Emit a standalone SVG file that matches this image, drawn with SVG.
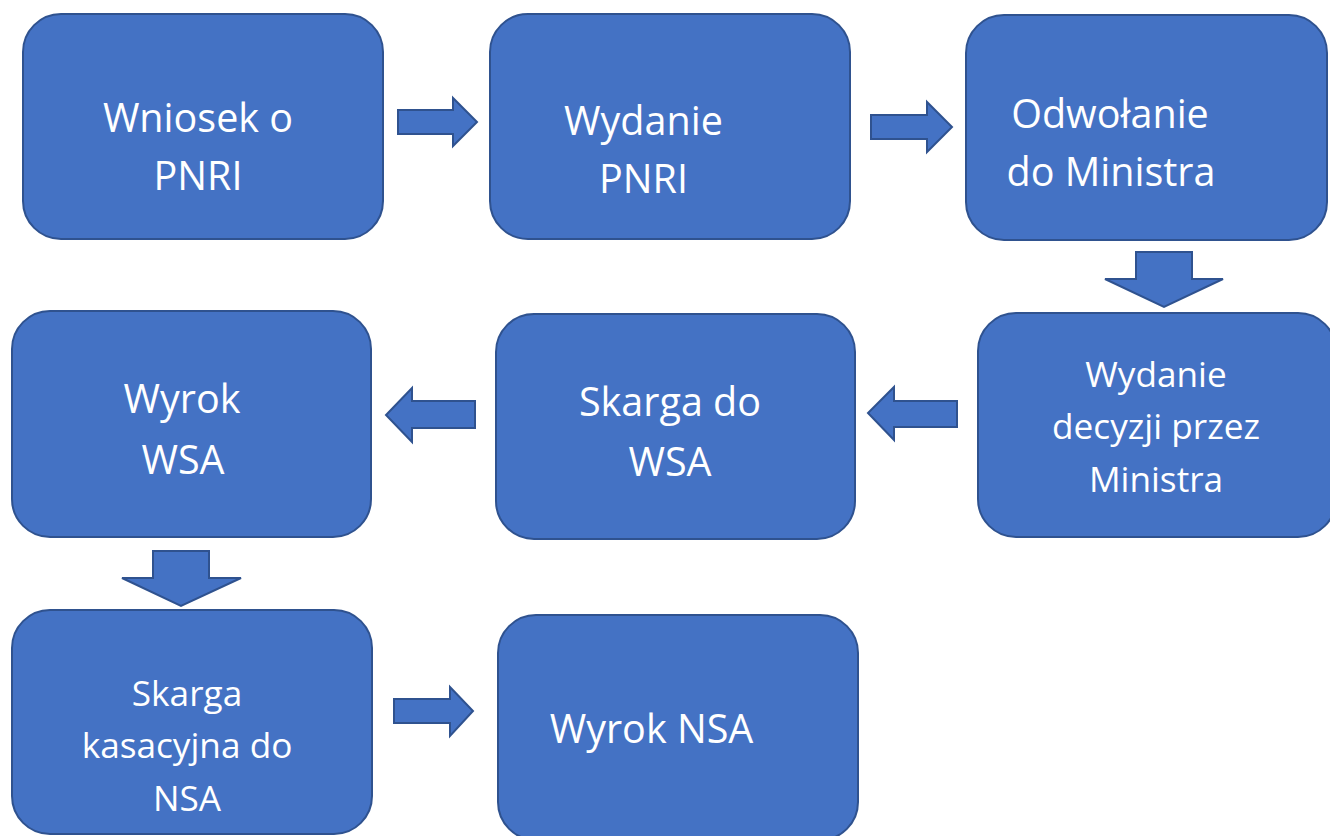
<svg xmlns="http://www.w3.org/2000/svg" width="1330" height="836" viewBox="0 0 1330 836">
<style>
.box{fill:#4472C4;stroke:#2F528F;stroke-width:2}
.arr{fill:#4472C4;stroke:#2F528F;stroke-width:2;stroke-linejoin:miter}
.t{font-family:"Open Sans","Noto Sans","Liberation Sans",sans-serif;fill:#ffffff;text-anchor:middle;font-size:39.5px}
.s{font-size:35.2px}
</style>
<rect width="1330" height="836" fill="#ffffff"/>
<g id="connectors">
<polygon class="arr" points="398,110 453,110 453,98 477,122 453,146 453,134 398,134"/>
<polygon class="arr" points="871,115 927,115 927,102 952,127 927,152 927,139 871,139"/>
<polygon class="arr" points="1136,252 1192,252 1192,279 1223,279 1164,307 1105,279 1136,279"/>
<polygon class="arr" points="957,401 894,401 894,387 868,413 894,440 894,427 957,427"/>
<polygon class="arr" points="475,401 412,401 412,388 386,415 412,442 412,428 475,428"/>
<polygon class="arr" points="153,551 209,551 209,578 241,578 181,606 122,578 153,578"/>
<polygon class="arr" points="394,699 450,699 450,687 473,711 450,736 450,723 394,723"/>
</g>
<g id="n1"><rect class="box" x="23" y="14" width="360" height="225" rx="38"/>
<text class="t" x="198" y="132">Wniosek o</text><text class="t" x="198" y="190">PNRI</text></g>
<g id="n2"><rect class="box" x="490" y="14" width="360" height="225" rx="38"/>
<text class="t" x="643.5" y="135">Wydanie</text><text class="t" x="643.5" y="193">PNRI</text></g>
<g id="n3"><rect class="box" x="966" y="15" width="361" height="225" rx="38"/>
<text class="t" x="1110" y="128">Odwołanie</text><text class="t" x="1111" y="186">do Ministra</text></g>
<g id="n4"><rect class="box" x="978" y="313" width="358" height="224" rx="38"/>
<text class="t s" x="1156" y="387">Wydanie</text><text class="t s" x="1156" y="439">decyzji przez</text><text class="t s" x="1156" y="492">Ministra</text></g>
<g id="n5"><rect class="box" x="496" y="314" width="359" height="225" rx="38"/>
<text class="t" x="670" y="416">Skarga do</text><text class="t" x="670" y="476">WSA</text></g>
<g id="n6"><rect class="box" x="12" y="311" width="359" height="226" rx="38"/>
<text class="t" x="182" y="413">Wyrok</text><text class="t" x="183" y="474">WSA</text></g>
<g id="n7"><rect class="box" x="12" y="610" width="360" height="224" rx="38"/>
<text class="t s" x="187" y="706">Skarga</text><text class="t s" x="187" y="758">kasacyjna do</text><text class="t s" x="187" y="811">NSA</text></g>
<g id="n8"><rect class="box" x="498" y="615" width="360" height="225" rx="38"/>
<text class="t" x="651.5" y="743">Wyrok NSA</text></g>
</svg>
